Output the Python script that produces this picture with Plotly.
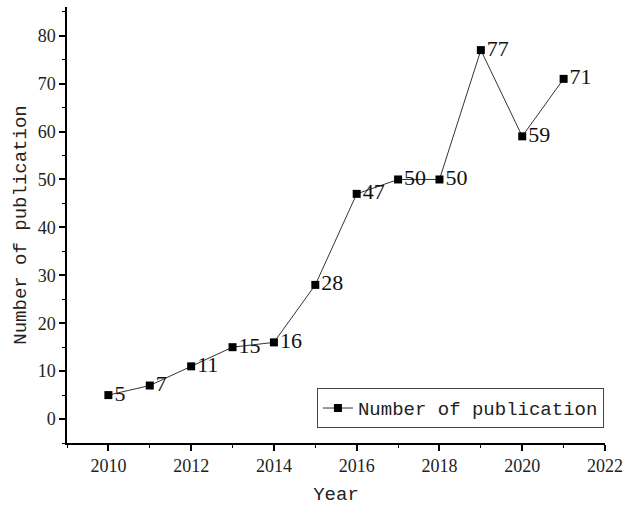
import plotly.graph_objects as go

years = [2010, 2011, 2012, 2013, 2014, 2015, 2016, 2017, 2018, 2019, 2020, 2021]
publications = [5, 7, 11, 15, 16, 28, 47, 50, 50, 77, 59, 71]
series_name = "Number of publication"

fig = go.Figure()
fig.add_trace(go.Scatter(
    x=years, y=publications, name=series_name,
    mode="lines+markers+text",
    text=[str(v) for v in publications],
    textposition="middle right",
    textfont=dict(family="Liberation Serif", size=22, color="#111"),
    line=dict(color="#333", width=1),
    marker=dict(symbol="square", size=8, color="black"),
    cliponaxis=False,
))

axis_common = dict(
    showline=True, linecolor="black", linewidth=1.5, mirror=False,
    ticks="outside", ticklen=6, tickwidth=1.5, tickcolor="black",
    showgrid=False, zeroline=False,
    ticklabeloverflow="allow",
    tickfont=dict(family="Liberation Serif", size=18, color="#222"),
)

fig.update_xaxes(
    range=[2009, 2022], dtick=2, tick0=2010,
    minor=dict(ticks="outside", ticklen=3, tickwidth=1.2, tickcolor="black", dtick=1, tick0=2009),
    title=dict(text="Year", font=dict(family="Liberation Mono", size=19, color="#222"), standoff=11),
    **axis_common,
)
fig.update_yaxes(
    range=[-5, 86], dtick=10, tick0=0,
    minor=dict(ticks="outside", ticklen=3, tickwidth=1.2, tickcolor="black", dtick=5, tick0=-5),
    title=dict(text="Number of publication", font=dict(family="Liberation Mono", size=19, color="#222"), standoff=6),
    **axis_common,
)

fig.update_layout(
    width=624, height=507,
    margin=dict(l=67, r=19, t=7, b=64, autoexpand=False),
    plot_bgcolor="white", paper_bgcolor="white",
    showlegend=True,
    legend=dict(
        x=0.998, y=0.034, xanchor="right", yanchor="bottom",
        bordercolor="#444", borderwidth=1, bgcolor="white",
        font=dict(family="Liberation Mono", size=19, color="#222"),
    ),
)

fig.write_html("out.html", config={"displayModeBar": False},
               post_script="document.body.style.margin='0px';")
